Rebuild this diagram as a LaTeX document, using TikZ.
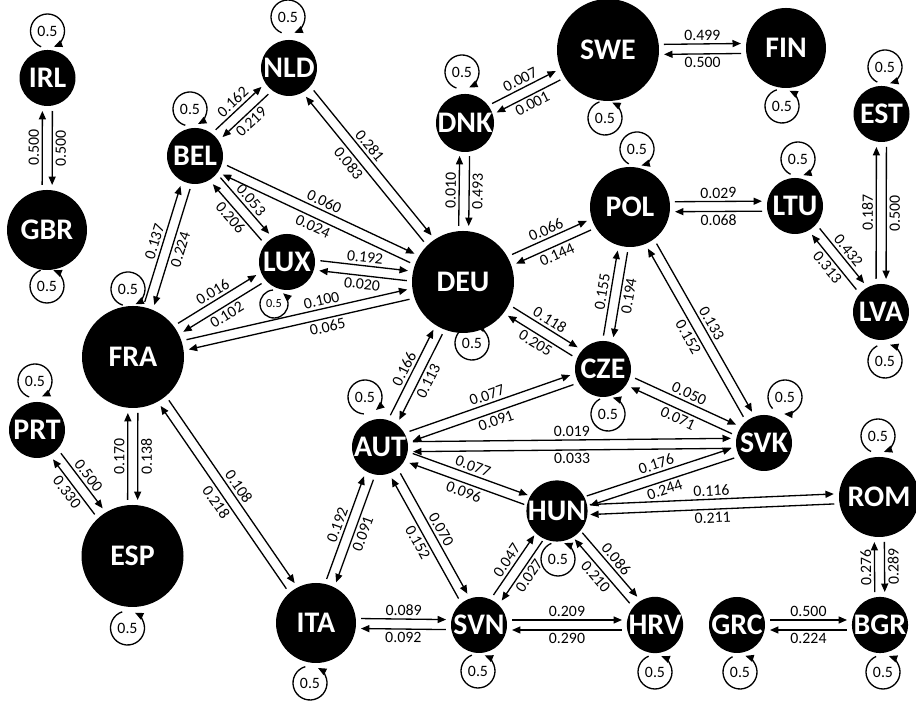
\documentclass[tikz,border=0pt]{standalone}
\usepackage{fontspec}
\setmainfont{Carlito}
\usetikzlibrary{arrows.meta,calc}
% distance from centre to line end, by node size
\def\rsml{0.66cm}
\def\rmid{0.9cm}
\def\rbig{1.12cm}
\def\off{0.1cm}
\def\lr{0.34cm}
\newcommand\country[3]{\node[#1] (#2) at (#3) {#2};%
  \expandafter\xdef\csname r#2\endcsname{\csname r#1\endcsname}}
% #2 -> #3 on the left side, #3 -> #2 on the right side
\newcommand\link[5][]{%
  \draw[flow,->] ($($(#2)!\csname r#2\endcsname!(#3)$)!\off!90:(#3)$) -- node[val,above,#1]{#4}
    ($($(#3)!\csname r#3\endcsname!(#2)$)!\off!-90:(#2)$);
  \draw[flow,<-] ($($(#2)!\csname r#2\endcsname!(#3)$)!\off!-90:(#3)$) -- node[val,below,#1]{#5}
    ($($(#3)!\csname r#3\endcsname!(#2)$)!\off!90:(#2)$);}
% self loop, #4 = direction of the opening
\newcommand\selfloop[4][]{%
  \node[pv,#1] (l#2) at (#3) {0.5};
  \ifnum#4>180
    \draw[flow,->] (l#2) ++({#4-22}:\lr) arc[start angle=#4-22,delta angle=-316,radius=\lr];
  \else
    \draw[flow,->] (l#2) ++({#4+22}:\lr) arc[start angle=#4+22,delta angle=316,radius=\lr];
  \fi}

\begin{document}
\begin{tikzpicture}[>={Triangle[length=4.8pt,width=4pt]},
  cty/.style={circle,fill=black,text=white,inner sep=0pt,font=\bfseries\fontsize{17}{17}\selectfont},
  sml/.style={cty,minimum size=1.12cm},
  mid/.style={cty,minimum size=1.6cm},
  big/.style={cty,minimum size=2.04cm},
  flow/.style={line width=0.75pt},
  val/.style={font=\fontsize{9}{9}\selectfont,inner sep=1.5pt,sloped,allow upside down},
  pv/.style={circle,inner sep=0pt,outer sep=0pt,minimum size=0.68cm,font=\fontsize{9}{9}\selectfont}]
\useasboundingbox (0,0) rectangle (18.32,14.04);
% countries
\country{sml}{IRL}{0.95,12.48}
\country{mid}{GBR}{0.94,9.44}
\country{sml}{NLD}{5.78,12.68}
\country{sml}{BEL}{3.90,10.92}
\country{sml}{LUX}{5.74,8.80}
\country{big}{FRA}{2.66,6.90}
\country{sml}{PRT}{0.74,5.44}
\country{big}{ESP}{2.65,2.92}
\country{mid}{ITA}{6.32,1.58}
\country{sml}{DNK}{9.30,11.58}
\country{big}{SWE}{12.16,13.04}
\country{mid}{FIN}{15.72,13.08}
\country{sml}{EST}{17.63,11.76}
\country{mid}{POL}{12.60,9.90}
\country{sml}{LTU}{15.90,9.92}
\country{sml}{LVA}{17.62,7.80}
\country{big}{DEU}{9.26,8.40}
\country{sml}{CZE}{12.06,6.66}
\country{sml}{SVK}{15.28,5.18}
\country{sml}{AUT}{7.60,5.10}
\country{sml}{HUN}{11.14,3.82}
\country{mid}{ROM}{17.58,4.10}
\country{sml}{SVN}{9.58,1.54}
\country{sml}{HRV}{13.10,1.54}
\country{sml}{GRC}{14.74,1.54}
\country{sml}{BGR}{17.60,1.54}
% self loops
\selfloop{IRL}{0.95,13.42}{270}
\selfloop{GBR}{0.94,8.32}{90}
\selfloop{NLD}{5.76,13.70}{270}
\selfloop{BEL}{3.80,11.86}{276}
\selfloop{FRA}{2.56,8.26}{274}
{\def\lr{0.28cm}\selfloop[minimum size=0.56cm,font=\fontsize{7}{7}\selectfont]{LUX}{5.48,7.96}{72}}
\selfloop{PRT}{0.70,6.42}{272}
\selfloop{ESP}{2.55,1.48}{86}
\selfloop{ITA}{6.20,0.38}{84}
\selfloop{DNK}{9.24,12.60}{273}
\selfloop{SWE}{12.10,11.68}{87}
\selfloop{FIN}{15.64,11.92}{86}
\selfloop{EST}{17.70,12.70}{265}
\selfloop{POL}{12.74,11.06}{263}
\selfloop{LTU}{15.96,10.86}{266}
\selfloop{LVA}{17.70,6.82}{95}
\selfloop{DEU}{9.44,7.18}{98}
\selfloop{CZE}{12.16,5.76}{96}
\selfloop{AUT}{7.30,6.10}{288}
\selfloop{SVK}{15.70,6.10}{245}
\selfloop{HUN}{11.16,2.86}{91}
\selfloop{SVN}{9.56,0.62}{89}
\selfloop{HRV}{13.10,0.60}{90}
\selfloop{GRC}{14.80,0.60}{94}
\selfloop{BGR}{17.66,0.60}{92}
\selfloop{ROM}{17.56,5.32}{268}
% flows
\link{GBR}{IRL}{0.500}{0.500}
\link{BEL}{NLD}{0.162}{0.219}
\link[pos=0.42]{NLD}{DEU}{0.281}{0.083}
\link{BEL}{DEU}{0.060}{0.024}
\link{BEL}{LUX}{0.053}{0.206}
\link{FRA}{BEL}{0.137}{0.224}
\link{LUX}{DEU}{0.192}{0.020}
\link{FRA}{LUX}{0.016}{0.102}
\link[pos=0.62]{FRA}{DEU}{0.100}{0.065}
\link{ESP}{FRA}{0.170}{0.138}
\link{PRT}{ESP}{0.500}{0.330}
\link{FRA}{ITA}{0.108}{0.218}
\link{DNK}{SWE}{0.007}{0.001}
\link{DEU}{DNK}{0.010}{0.493}
\link{SWE}{FIN}{0.499}{0.500}
\link{DEU}{POL}{0.066}{0.144}
\link{POL}{LTU}{0.029}{0.068}
\link{LVA}{EST}{0.187}{0.500}
\link{LTU}{LVA}{0.432}{0.313}
\link{CZE}{POL}{0.155}{0.194}
\link{POL}{SVK}{0.133}{0.152}
\link{DEU}{CZE}{0.118}{0.205}
\link{AUT}{DEU}{0.166}{0.113}
\link{CZE}{SVK}{0.050}{0.071}
\link{AUT}{CZE}{0.077}{0.091}
\link{AUT}{SVK}{0.019}{0.033}
\link{AUT}{HUN}{0.077}{0.096}
\link{HUN}{SVK}{0.176}{0.244}
\link{HUN}{ROM}{0.116}{0.211}
\link{ITA}{AUT}{0.192}{0.091}
\link{AUT}{SVN}{0.070}{0.152}
\link{SVN}{HUN}{0.047}{0.027}
\link{HUN}{HRV}{0.086}{0.210}
\link{ITA}{SVN}{0.089}{0.092}
\link{SVN}{HRV}{0.209}{0.290}
\link{BGR}{ROM}{0.276}{0.289}
\link{GRC}{BGR}{0.500}{0.224}
\end{tikzpicture}
\end{document}
